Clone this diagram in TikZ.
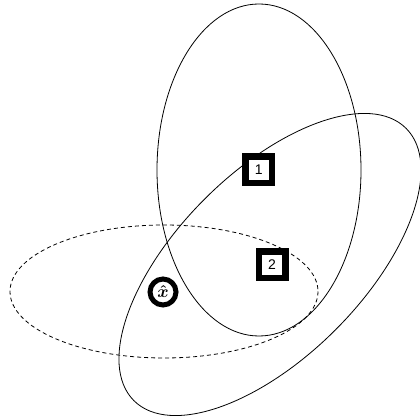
\documentclass[tikz,border=0pt]{standalone}
\usepackage{amsmath}
\usepackage{fontspec}
\setsansfont{Liberation Sans}
\begin{document}
\begin{tikzpicture}[x=1pt,y=-1pt,
  curve/.style={line width=0.8pt},
  dashcurve/.style={line width=0.8pt,dash pattern=on 4pt off 3pt},
  sqnode/.style={draw,fill=white,line width=6.5pt,minimum size=26.5pt,inner sep=0pt,font=\sffamily\fontsize{14}{14}\selectfont},
  circnode/.style={circle,draw,fill=white,line width=5pt,minimum size=26pt,inner sep=0pt,font=\fontsize{17}{17}\selectfont}]
\useasboundingbox (0,0) rectangle (420,419);
\draw[curve] (259,170) ellipse [x radius=102, y radius=166];
\draw[dashcurve] (164,291.5) ellipse [x radius=154, y radius=66.5];
\draw[curve,rotate around={45:(270,264.5)}] (270,264.5) ellipse [x radius=192.5, y radius=92.5];
\node[sqnode] (n1) at (258.7,170) {1};
\node[sqnode] (n2) at (272,265) {2};
\node[circnode] (xh) at (163,292) {$\boldsymbol{\hat{x}}$};
\end{tikzpicture}
\end{document}
